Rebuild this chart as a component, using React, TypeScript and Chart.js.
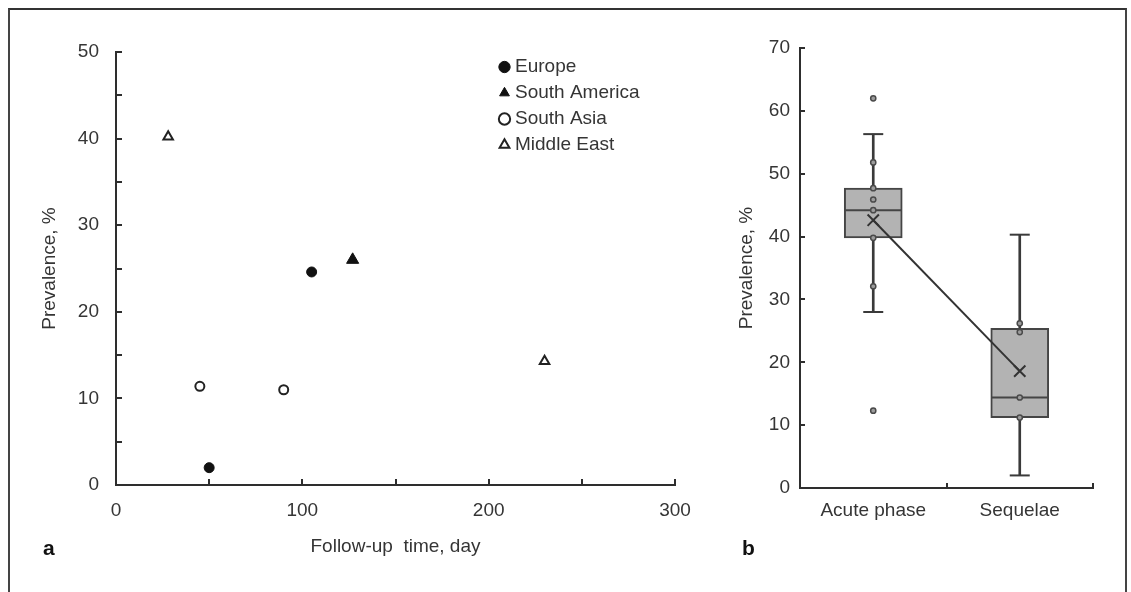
import React, { useEffect, useRef } from 'react';
import { Chart, registerables } from 'chart.js';

Chart.register(...registerables);

const FONT = '"Liberation Sans", Arial, Helvetica, sans-serif';
const TEXT = '#353535';
const AXIS = '#2e2e2e';

// ---------- Panel a : follow-up time vs prevalence ----------
const regionNames = ['Europe', 'South America', 'South Asia', 'Middle East'];
const europeDays = [105, 50];
const europePrevalence = [24.6, 2.0];
const southAmericaDays = [127];
const southAmericaPrevalence = [26.0];
const southAsiaDays = [45, 90];
const southAsiaPrevalence = [11.4, 11.0];
const middleEastDays = [28, 230];
const middleEastPrevalence = [40.2, 14.3];

// ---------- Panel b : box plots ----------
const phases = ['Acute phase', 'Sequelae'];
const whiskerLow = [28.0, 2.0];
const quartile1 = [39.8, 11.2];
const medians = [44.2, 14.4];
const quartile3 = [47.7, 25.4];
const whiskerHigh = [56.3, 40.3];
const means = [42.6, 18.6];
const acutePoints = [62.0, 51.8, 47.7, 45.9, 44.2, 39.8, 32.1, 12.3];
const sequelaePoints = [26.2, 24.8, 14.4, 11.2];

const pts = (xs: number[], ys: number[]) => xs.map((x, i) => ({ x, y: ys[i] }));

function insideTicks(len: number) {
  return {
    id: 'insideTicks',
    afterDraw(chart: any) {
      const { ctx, chartArea, scales } = chart;
      ctx.save();
      ctx.strokeStyle = AXIS;
      ctx.lineWidth = 2;
      const xs = scales.x;
      let xPix: number[] = [];
      if (xs.type === 'category') {
        xPix = xs.ticks.map((_: any, i: number) => xs.getPixelForValue(i + 0.5));
      } else {
        xPix = xs.ticks.map((t: any) => xs.getPixelForValue(t.value));
      }
      xPix.forEach((px) => {
        ctx.beginPath();
        ctx.moveTo(Math.round(px), chartArea.bottom);
        ctx.lineTo(Math.round(px), chartArea.bottom - len);
        ctx.stroke();
      });
      const ys = scales.y;
      ys.ticks.forEach((t: any) => {
        const py = Math.round(ys.getPixelForValue(t.value));
        ctx.beginPath();
        ctx.moveTo(chartArea.left, py);
        ctx.lineTo(chartArea.left + len, py);
        ctx.stroke();
      });
      ctx.restore();
    },
  };
}

const legendPlacer = {
  id: 'legendPlacer',
  afterLayout(chart: any) {
    const lg = chart.legend;
    if (!lg) return;
    lg.left = 486.5;
    lg.top = 40.5;
    lg.width = 220;
    lg.height = 130;
    lg.right = lg.left + 220;
    lg.bottom = lg.top + 130;
  },
};

const tickFont = { family: FONT, size: 19 };
const titleFont = { family: FONT, size: 19 };

export default function App() {
  const leftRef = useRef<HTMLCanvasElement>(null);
  const rightRef = useRef<HTMLCanvasElement>(null);

  useEffect(() => {
    Chart.defaults.font.family = FONT;
    Chart.defaults.color = TEXT;

    const left = new Chart(leftRef.current as HTMLCanvasElement, {
      type: 'scatter',
      data: {
        datasets: [
          {
            label: regionNames[0],
            data: pts(europeDays, europePrevalence),
            pointStyle: 'circle',
            pointRadius: 5,
            pointBackgroundColor: '#111',
            pointBorderColor: '#111',
            pointBorderWidth: 1,
          },
          {
            label: regionNames[1],
            data: pts(southAmericaDays, southAmericaPrevalence),
            pointStyle: 'triangle',
            pointRadius: 7,
            pointBackgroundColor: '#111',
            pointBorderColor: '#111',
            pointBorderWidth: 1,
          },
          {
            label: regionNames[2],
            data: pts(southAsiaDays, southAsiaPrevalence),
            pointStyle: 'circle',
            pointRadius: 4.5,
            pointBackgroundColor: '#fff',
            pointBorderColor: '#222',
            pointBorderWidth: 2,
          },
          {
            label: regionNames[3],
            data: pts(middleEastDays, middleEastPrevalence),
            pointStyle: 'triangle',
            pointRadius: 5.5,
            pointBackgroundColor: '#fff',
            pointBorderColor: '#222',
            pointBorderWidth: 2,
          },
        ],
      },
      options: {
        responsive: false,
        animation: false,
        events: [],
        layout: { padding: { left: 0, top: 42, right: 50, bottom: 25 } },
        plugins: {
          tooltip: { enabled: false },
          legend: {
            display: true,
            position: 'chartArea',
            align: 'start',
            labels: {
              usePointStyle: true,
              boxWidth: 2,
              boxHeight: 8,
              padding: 7,
              color: TEXT,
              font: { family: FONT, size: 19 },
            },
          },
        },
        scales: {
          x: {
            type: 'linear',
            min: 0,
            max: 300,
            afterFit: (s: any) => { s.height = 80; },
            grid: { display: false, drawTicks: false, tickLength: 0 },
            border: { display: true, color: AXIS, width: 2 },
            ticks: {
              stepSize: 50,
              autoSkip: false,
              maxRotation: 0,
              padding: 14,
              color: TEXT,
              font: tickFont,
              callback: (v: any) => (Number(v) % 100 === 0 ? String(v) : ''),
            },
            title: {
              display: true,
              text: 'Follow-up  time, day',
              color: TEXT,
              font: titleFont,
              padding: { top: 0, bottom: 6.6 },
            },
          },
          y: {
            type: 'linear',
            min: 0,
            max: 50,
            afterFit: (s: any) => { s.width = 106; },
            grid: { display: false, drawTicks: false, tickLength: 0 },
            border: { display: true, color: AXIS, width: 2 },
            ticks: {
              stepSize: 5,
              autoSkip: false,
              padding: 17,
              color: TEXT,
              font: tickFont,
              callback: (v: any) => (Number(v) % 10 === 0 ? String(v) : ''),
            },
            title: {
              display: true,
              text: 'Prevalence, %',
              color: TEXT,
              font: titleFont,
              padding: { top: 28.6, bottom: 0 },
            },
          },
        },
      } as any,
      plugins: [insideTicks(6), legendPlacer],
    });

    const caps = phases.flatMap((p, i) => [
      { x: p, y: whiskerLow[i] },
      { x: p, y: whiskerHigh[i] },
    ]);
    const scatterPts = [
      ...acutePoints.map((y) => ({ x: phases[0], y })),
      ...sequelaePoints.map((y) => ({ x: phases[1], y })),
    ];

    const right = new Chart(rightRef.current as HTMLCanvasElement, {
      type: 'bar',
      data: {
        labels: phases,
        datasets: [
          {
            type: 'bar',
            label: 'whisker',
            data: phases.map((_, i) => [whiskerLow[i], whiskerHigh[i]]),
            barThickness: 2,
            backgroundColor: '#3a3a3a',
            borderWidth: 0,
            grouped: false,
            order: 10,
          },
          {
            type: 'bar',
            label: 'box',
            data: phases.map((_, i) => [quartile1[i], quartile3[i]]),
            barThickness: 58,
            backgroundColor: '#b3b3b3',
            borderColor: '#454545',
            borderWidth: 2,
            borderSkipped: false,
            grouped: false,
            order: 9,
          },
          {
            type: 'line',
            label: 'median',
            data: medians,
            showLine: false,
            pointStyle: 'line',
            pointRadius: 28,
            pointBorderWidth: 2,
            pointBorderColor: '#454545',
            order: 6,
          },
          {
            type: 'line',
            label: 'caps',
            data: caps,
            showLine: false,
            pointStyle: 'line',
            pointRadius: 10,
            pointBorderWidth: 2,
            pointBorderColor: '#3a3a3a',
            order: 5,
          },
          {
            type: 'line',
            label: 'values',
            data: scatterPts,
            showLine: false,
            pointStyle: 'circle',
            pointRadius: 2.6,
            pointBackgroundColor: '#9c9c9c',
            pointBorderColor: '#4a4a4a',
            pointBorderWidth: 1.5,
            order: 3,
          },
          {
            type: 'line',
            label: 'mean',
            data: means,
            borderColor: '#333',
            borderWidth: 2,
            pointStyle: 'crossRot',
            pointRadius: 8,
            pointBorderWidth: 2,
            pointBorderColor: '#333',
            pointBackgroundColor: '#333',
            order: 1,
          },
        ],
      },
      options: {
        responsive: false,
        animation: false,
        events: [],
        layout: { padding: { left: 0, top: 38, right: 29, bottom: 52 } },
        plugins: {
          tooltip: { enabled: false },
          legend: { display: false },
        },
        scales: {
          x: {
            type: 'category',
            offset: true,
            afterFit: (s: any) => { s.height = 50; },
            grid: { display: false, drawTicks: false, tickLength: 0, offset: true },
            border: { display: true, color: AXIS, width: 2 },
            ticks: { padding: 11, color: TEXT, font: tickFont, maxRotation: 0 },
          },
          y: {
            type: 'linear',
            min: 0,
            max: 70,
            afterFit: (s: any) => { s.width = 73; },
            grid: { display: false, drawTicks: false, tickLength: 0 },
            border: { display: true, color: AXIS, width: 2 },
            ticks: { stepSize: 10, padding: 10, color: TEXT, font: tickFont },
            title: {
              display: true,
              text: 'Prevalence, %',
              color: TEXT,
              font: titleFont,
              padding: { top: 8.6, bottom: 0 },
            },
          },
        },
      } as any,
      plugins: [insideTicks(5)],
    });

    return () => {
      left.destroy();
      right.destroy();
    };
  }, []);

  const letter: React.CSSProperties = {
    position: 'absolute',
    fontFamily: FONT,
    fontWeight: 'bold',
    fontSize: 21,
    lineHeight: '21px',
    color: '#111',
  };

  return (
    <div
      style={{
        position: 'absolute',
        left: 0,
        top: 0,
        width: 1131,
        height: 592,
        background: '#fff',
        overflow: 'hidden',
      }}
    >
      <div
        style={{
          position: 'absolute',
          left: 8,
          top: 8,
          width: 1119,
          height: 620,
          boxSizing: 'border-box',
          borderTop: '2px solid #333',
          borderLeft: '2px solid #444',
          borderRight: '2px solid #444',
        }}
      />
      <canvas
        ref={leftRef}
        width={715}
        height={580}
        style={{ position: 'absolute', left: 10, top: 10, width: 715, height: 580 }}
      />
      <canvas
        ref={rightRef}
        width={396}
        height={580}
        style={{ position: 'absolute', left: 727, top: 10, width: 396, height: 580 }}
      />
      <div style={{ ...letter, left: 43, top: 537 }}>a</div>
      <div style={{ ...letter, left: 742, top: 537 }}>b</div>
    </div>
  );
}
